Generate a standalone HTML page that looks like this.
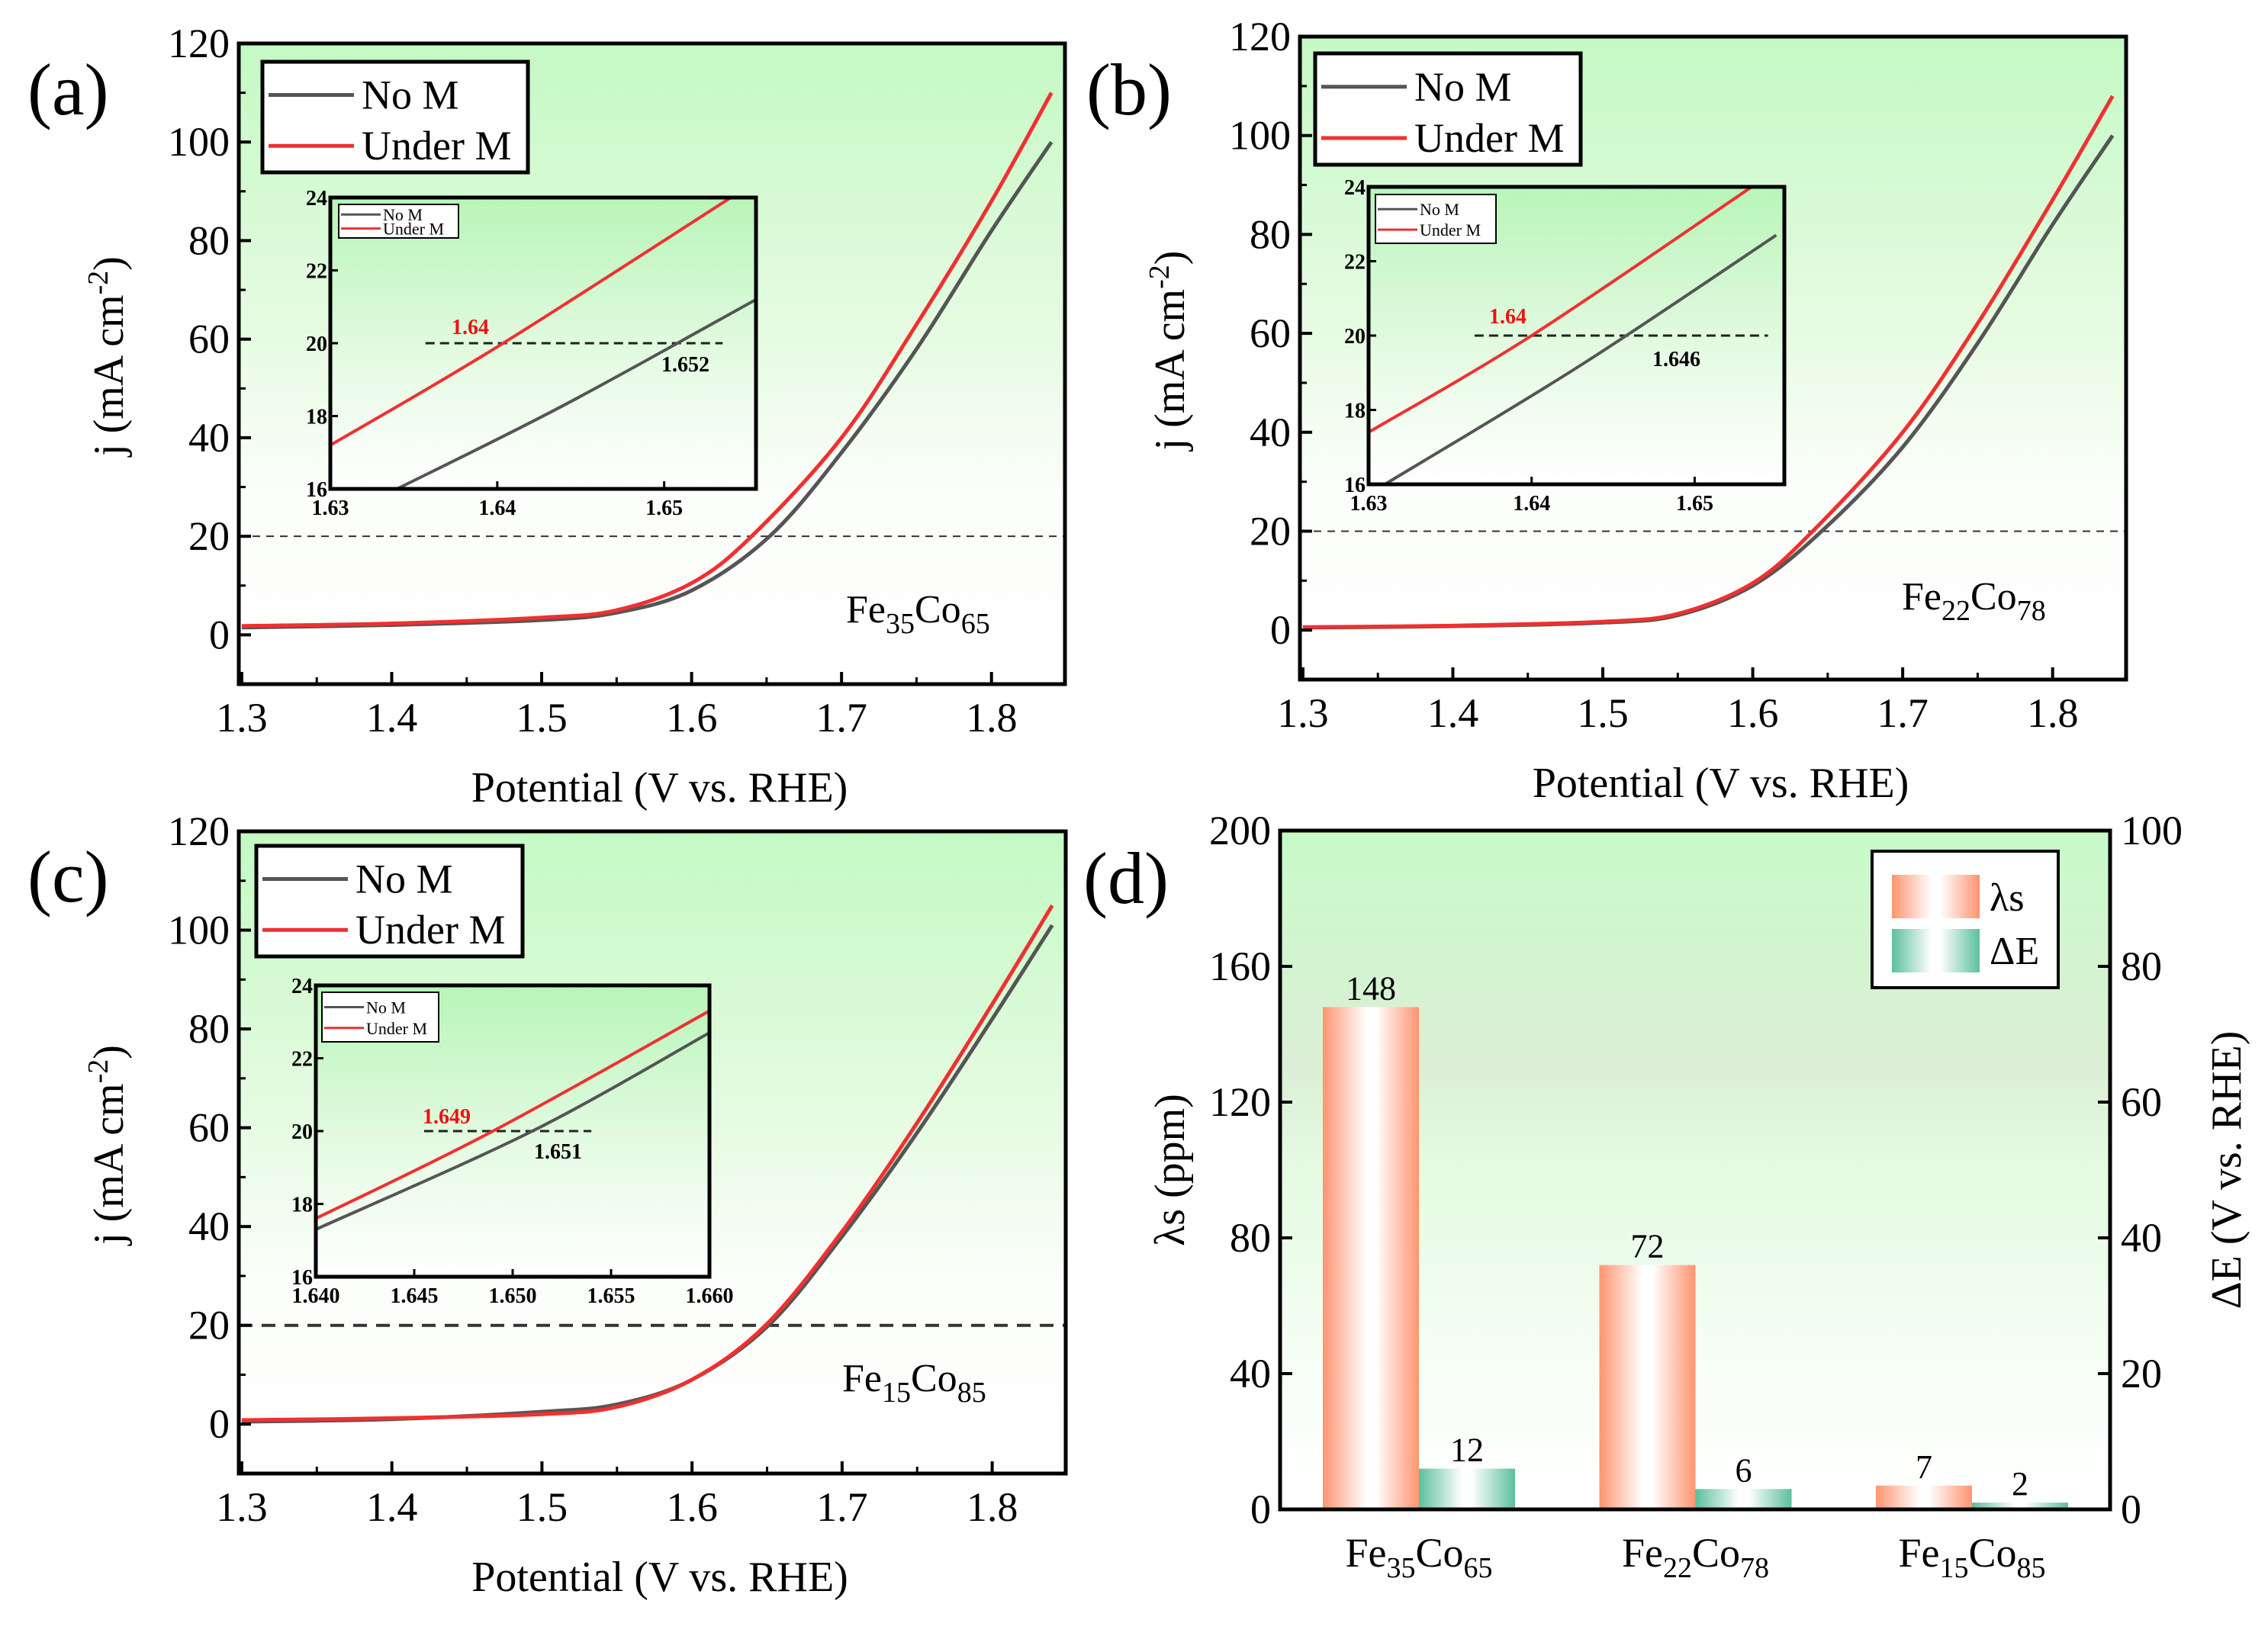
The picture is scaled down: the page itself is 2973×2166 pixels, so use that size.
<!DOCTYPE html>
<html><head><meta charset="utf-8"><style>
html,body{margin:0;padding:0;background:#fff}
svg text{font-family:"Liberation Serif",serif;fill:#000}
</style></head><body>
<svg id="fig" width="2973" height="2161" viewBox="0 0 2973 2161" xmlns="http://www.w3.org/2000/svg">
<defs>
<linearGradient id="bgLSV" x1="0" y1="0" x2="0" y2="1">
<stop offset="0" stop-color="#c4f9c4"/><stop offset="0.45" stop-color="#e6fbe2"/><stop offset="0.7" stop-color="#fbfefa"/><stop offset="1" stop-color="#ffffff"/>
</linearGradient>
<linearGradient id="bgIn" x1="0" y1="0" x2="0" y2="1">
<stop offset="0" stop-color="#b8f5b8"/><stop offset="0.6" stop-color="#e8fbe6"/><stop offset="1" stop-color="#ffffff"/>
</linearGradient>
<linearGradient id="bgD" x1="0" y1="0" x2="0" y2="1">
<stop offset="0" stop-color="#c8fac8"/><stop offset="0.35" stop-color="#dcefd6"/><stop offset="0.5" stop-color="#e4fbe2"/><stop offset="0.8" stop-color="#f7fef6"/><stop offset="1" stop-color="#ffffff"/>
</linearGradient>
<linearGradient id="gOr" x1="0" y1="0" x2="1" y2="0">
<stop offset="0" stop-color="#ff9470"/><stop offset="0.45" stop-color="#ffffff"/><stop offset="0.55" stop-color="#ffffff"/><stop offset="1" stop-color="#ff9470"/>
</linearGradient>
<linearGradient id="gGr" x1="0" y1="0" x2="1" y2="0">
<stop offset="0" stop-color="#5cbf9c"/><stop offset="0.45" stop-color="#ffffff"/><stop offset="0.55" stop-color="#ffffff"/><stop offset="1" stop-color="#5cbf9c"/>
</linearGradient>
</defs>
</svg>
<script>
// ---- data ----
const xTicks=[1.3,1.4,1.5,1.6,1.7,1.8];
const yTicks=[0,20,40,60,80,100,120];
const aNoMx=[1.3,1.4,1.5,1.55,1.6,1.652,1.7,1.75,1.8,1.84];
const aNoMy=[1.5,2,3,4.5,9,20,37,58,82,100];
const aUnMx=[1.3,1.4,1.5,1.55,1.6,1.64,1.7,1.75,1.8,1.84];
const aUnMy=[1.8,2.3,3.5,5,10.5,20,40,63,88,110];
const bNoMx=[1.3,1.4,1.5,1.55,1.6,1.646,1.7,1.75,1.8,1.84];
const bNoMy=[0.5,0.8,1.5,3,9,20,37,58,82,100];
const bUnMx=[1.3,1.4,1.5,1.55,1.6,1.64,1.7,1.75,1.8,1.84];
const bUnMy=[0.6,0.9,1.7,3.3,9.5,20,40,62,87,108];
const cNoMx=[1.3,1.4,1.5,1.55,1.6,1.651,1.7,1.75,1.8,1.84];
const cNoMy=[0.5,1,2.5,4,9,20,38,59,82,101];
const cUnMx=[1.3,1.4,1.5,1.55,1.6,1.649,1.7,1.75,1.8,1.84];
const cUnMy=[0.8,1.2,2,3.5,9,20,39,61,85,105];
// insets
const aInNoMx=[1.634,1.644,1.6555]; const aInNoMy=[16,18.3,21.2];
const aInUnMx=[1.63,1.64,1.654];    const aInUnMy=[17.2,19.9,24];
const bInNoMx=[1.631,1.643,1.655];  const bInNoMy=[16,19.2,22.7];
const bInUnMx=[1.63,1.64,1.6535];   const bInUnMy=[17.4,20,24];
const cInNoMx=[1.64,1.651,1.66];    const cInNoMy=[17.3,20,22.7];
const cInUnMx=[1.64,1.649,1.66];    const cInUnMy=[17.6,20,23.3];
// bar chart
const categories=[["Fe","35","Co","65"],["Fe","22","Co","78"],["Fe","15","Co","85"]];
const lambdaS=[148,72,7];
const deltaE=[12,6,2];
const dLeftTicks=[0,40,80,120,160,200];
const dRightTicks=[0,20,40,60,80,100];

const svg=document.getElementById('fig');
const NS='http://www.w3.org/2000/svg';
function el(tag,attrs,parent,txt){const e=document.createElementNS(NS,tag);for(const k in attrs)e.setAttribute(k,attrs[k]);if(txt!==undefined)e.textContent=txt;(parent||svg).appendChild(e);return e;}
function smooth(pts){let d='M'+pts[0][0]+','+pts[0][1];for(let i=0;i<pts.length-1;i++){const p0=pts[i-1]||pts[i],p1=pts[i],p2=pts[i+1],p3=pts[i+2]||p2;const c1=[p1[0]+(p2[0]-p0[0])/6,p1[1]+(p2[1]-p0[1])/6],c2=[p2[0]-(p3[0]-p1[0])/6,p2[1]-(p3[1]-p1[1])/6];d+=' C'+c1+' '+c2+' '+p2;}return d;}

function panel(cfg){
  const g=el('g',{});
  
  
  const L=cfg.L,T=cfg.T,R=cfg.R,B=cfg.B;
  const x0=1.298,x1=1.849,y0=-10,y1=120;
  const sx=v=>L+(v-x0)/(x1-x0)*(R-L), sy=v=>B-(v-y0)/(y1-y0)*(B-T);
  el('rect',{x:L,y:T,width:R-L,height:B-T,fill:'url(#bgLSV)'},g);
  const dl=el('line',{x1:L,x2:R,y1:sy(20),y2:sy(20),stroke:'#333','stroke-width':cfg.id==='c'?4:2,'stroke-dasharray':cfg.id==='c'?'18,12':'10,8'},g);
  
  
  const c1=el('path',{d:smooth(cfg.nx.map((v,i)=>[sx(v),sy(cfg.ny[i])])),fill:'none',stroke:'#555','stroke-width':5},g);
  
  
  const c2=el('path',{d:smooth(cfg.ux.map((v,i)=>[sx(v),sy(cfg.uy[i])])),fill:'none',stroke:'#f03030','stroke-width':5},g);
  
  
  // ticks
  xTicks.forEach(v=>{const X=sx(v);el('line',{x1:X,x2:X,y1:B,y2:B-16,stroke:'#000','stroke-width':4},g);
    const t=el('text',{x:X,y:B+62,'text-anchor':'middle','font-size':54},g,v.toFixed(1));
    
    
    const m=sx(v+0.05);if(m<R)el('line',{x1:m,x2:m,y1:B,y2:B-9,stroke:'#000','stroke-width':3},g);});
  yTicks.forEach(v=>{const Y=sy(v);el('line',{x1:L,x2:L+16,y1:Y,y2:Y,stroke:'#000','stroke-width':4},g);
    const t=el('text',{x:L-12,y:Y+18,'text-anchor':'end','font-size':54},g,String(v));
    
    
    const m=sy(v+10);if(m>T)el('line',{x1:L,x2:L+9,y1:m,y2:m,stroke:'#000','stroke-width':3},g);});
  el('rect',{x:L,y:T,width:R-L,height:B-T,fill:'none',stroke:'#000','stroke-width':5},g);
  const xt=el('text',{x:(L+R)/2+10,y:B+154,'text-anchor':'middle','font-size':56},g,'Potential (V vs. RHE)');
  
  
  const yt=el('text',{transform:`translate(${L-152},${(T+B)/2-10}) rotate(-90)`,'text-anchor':'middle','font-size':56},g);
  
  
  el('tspan',{},yt,'j (mA cm');el('tspan',{dy:-20,'font-size':38},yt,'-2');el('tspan',{dy:20},yt,')');
  const pl=el('text',{x:cfg.lx,y:cfg.ly,'font-size':96},g,'('+cfg.id+')');
  
  
  // sample label
  const sl=el('text',{x:cfg.sx,y:cfg.sy,'font-size':52},g);
  
  
  el('tspan',{},sl,'Fe');el('tspan',{dy:14,'font-size':38},sl,cfg.s1);el('tspan',{dy:-14},sl,'Co');el('tspan',{dy:14,'font-size':38},sl,cfg.s2);
  // legend
  const lg=el('g',{},g);
  
  
  const [lx,ly,lw,lh]=cfg.leg;
  el('rect',{x:lx,y:ly,width:lw,height:lh,fill:'#fff',stroke:'#000','stroke-width':5},lg);
  el('line',{x1:lx+8,x2:lx+120,y1:ly+lh*0.3,y2:ly+lh*0.3,stroke:'#555','stroke-width':5},lg);
  el('line',{x1:lx+8,x2:lx+120,y1:ly+lh*0.76,y2:ly+lh*0.76,stroke:'#f03030','stroke-width':5},lg);
  el('text',{x:lx+130,y:ly+lh*0.3+18,'font-size':54},lg,'No M');
  el('text',{x:lx+130,y:ly+lh*0.76+18,'font-size':54},lg,'Under M');
  // inset
  const I=cfg.inset;
  const ig=el('g',{},g);
  
  
  const ix=v=>I.L+(v-I.x0)/(I.x1-I.x0)*(I.R-I.L), iy=v=>I.B-(v-16)/8*(I.B-I.T);
  el('rect',{x:I.L,y:I.T,width:I.R-I.L,height:I.B-I.T,fill:'url(#bgIn)'},ig);
  el('line',{x1:ix(I.d0),x2:ix(I.d1),y1:iy(20),y2:iy(20),stroke:'#222','stroke-width':3,'stroke-dasharray':'12,7'},ig);
  const clip='clip'+cfg.id;
  const cp=el('clipPath',{id:clip},ig);el('rect',{x:I.L,y:I.T,width:I.R-I.L,height:I.B-I.T},cp);
  el('path',{d:smooth(cfg.inx.map((v,i)=>[ix(v),iy(cfg.iny[i])])),fill:'none',stroke:'#555','stroke-width':4,'clip-path':`url(#${clip})`},ig);
  el('path',{d:smooth(cfg.iux.map((v,i)=>[ix(v),iy(cfg.iuy[i])])),fill:'none',stroke:'#f03030','stroke-width':4,'clip-path':`url(#${clip})`},ig);
  I.xt.forEach(v=>{const X=ix(v);el('line',{x1:X,x2:X,y1:I.B,y2:I.B-10,stroke:'#000','stroke-width':3},ig);
    el('text',{x:X,y:I.B+34,'text-anchor':'middle','font-size':28,'font-weight':'bold'},ig,v.toFixed(I.dec));});
  [16,18,20,22,24].forEach(v=>{const Y=iy(v);el('line',{x1:I.L,x2:I.L+10,y1:Y,y2:Y,stroke:'#000','stroke-width':3},ig);
    el('text',{x:I.L-4,y:Y+10,'text-anchor':'end','font-size':28,'font-weight':'bold'},ig,String(v));});
  el('rect',{x:I.L,y:I.T,width:I.R-I.L,height:I.B-I.T,fill:'none',stroke:'#000','stroke-width':5},ig);
  const il=I.leg;
  el('rect',{x:il[0],y:il[1],width:il[2],height:il[3],fill:'#fff',stroke:'#000','stroke-width':2},ig);
  el('line',{x1:il[0]+3,x2:il[0]+55,y1:il[1]+il[3]*0.3,y2:il[1]+il[3]*0.3,stroke:'#555','stroke-width':3},ig);
  el('line',{x1:il[0]+3,x2:il[0]+55,y1:il[1]+il[3]*0.72,y2:il[1]+il[3]*0.72,stroke:'#f03030','stroke-width':3},ig);
  el('text',{x:il[0]+58,y:il[1]+il[3]*0.3+8,'font-size':22},ig,'No M');
  el('text',{x:il[0]+58,y:il[1]+il[3]*0.72+8,'font-size':22},ig,'Under M');
  el('text',{x:I.rl[0],y:I.rl[1],'font-size':28,'font-weight':'bold',style:'fill:#f01010'},ig,I.rv);
  el('text',{x:I.bl[0],y:I.bl[1],'font-size':28,'font-weight':'bold'},ig,I.bv);
}

panel({id:'a',L:313,T:57,R:1396,B:897,nx:aNoMx,ny:aNoMy,ux:aUnMx,uy:aUnMy,lx:36,ly:150,sx:1109,sy:816,s1:'35',s2:'65',leg:[344,81,348,145],
  inx:aInNoMx,iny:aInNoMy,iux:aInUnMx,iuy:aInUnMy,
  inset:{L:433,T:259,R:991,B:641,x0:1.63,x1:1.6555,xt:[1.63,1.64,1.65],dec:2,d0:1.6357,d1:1.6535,leg:[444,268,157,44],rl:[592,438],rv:'1.64',bl:[867,487],bv:'1.652'}});
panel({id:'b',L:1704,T:48,R:2787,B:891,nx:bNoMx,ny:bNoMy,ux:bUnMx,uy:bUnMy,lx:1424,ly:150,sx:2493,sy:799,s1:'22',s2:'78',leg:[1724,70,348,146],
  inx:bInNoMx,iny:bInNoMy,iux:bInUnMx,iuy:bInUnMy,
  inset:{L:1794,T:245,R:2339,B:635,x0:1.63,x1:1.6555,xt:[1.63,1.64,1.65],dec:2,d0:1.6365,d1:1.6545,leg:[1803,255,158,64],rl:[1952,424],rv:'1.64',bl:[2166,480],bv:'1.646'}});
panel({id:'c',L:313,T:1090,R:1397,B:1932,nx:cNoMx,ny:cNoMy,ux:cUnMx,uy:cUnMy,lx:36,ly:1182,sx:1104,sy:1824,s1:'15',s2:'85',leg:[336,1109,349,145],
  inx:cInNoMx,iny:cInNoMy,iux:cInUnMx,iuy:cInUnMy,
  inset:{L:414,T:1292,R:930,B:1674,x0:1.64,x1:1.66,xt:[1.64,1.645,1.65,1.655,1.66],dec:3,d0:1.6455,d1:1.654,leg:[422,1301,153,65],rl:[554,1473],rv:'1.649',bl:[700,1519],bv:'1.651'}});

// panel d
(function(){
  const g=el('g',{});
  
  
  const L=1678,T=1089,R=2766,B=1979;
  const sy=v=>B-v/200*(B-T), sy2=v=>B-v/100*(B-T);
  const step=362.5, c0=1860, bw=126;
  el('rect',{x:L,y:T,width:R-L,height:B-T,fill:'url(#bgD)'},g);
  categories.forEach((c,i)=>{
    const cx=c0+i*step;
    const b1=el('rect',{x:cx-bw,y:sy(lambdaS[i]),width:bw,height:B-sy(lambdaS[i]),fill:'url(#gOr)'},g);
    
    
    const b2=el('rect',{x:cx,y:sy(deltaE[i]),width:bw,height:B-sy(deltaE[i]),fill:'url(#gGr)'},g);
    
    
    el('text',{x:cx-bw/2,y:sy(lambdaS[i])-10,'text-anchor':'middle','font-size':44},g,String(lambdaS[i]));
    el('text',{x:cx+bw/2,y:sy(deltaE[i])-10,'text-anchor':'middle','font-size':44},g,String(deltaE[i]));
    const t=el('text',{x:cx,y:2054,'text-anchor':'middle','font-size':54},g);
    
    
    el('tspan',{},t,c[0]);el('tspan',{dy:14,'font-size':38},t,c[1]);el('tspan',{dy:-14},t,c[2]);el('tspan',{dy:14,'font-size':38},t,c[3]);
  });
  dLeftTicks.forEach(v=>{const Y=sy(v);el('line',{x1:L,x2:L+16,y1:Y,y2:Y,stroke:'#000','stroke-width':4},g);
    const t=el('text',{x:L-12,y:Y+18,'text-anchor':'end','font-size':54},g,String(v));
    
    });
  dRightTicks.forEach(v=>{const Y=sy2(v);el('line',{x1:R,x2:R-16,y1:Y,y2:Y,stroke:'#000','stroke-width':4},g);
    const t=el('text',{x:R+14,y:Y+18,'text-anchor':'start','font-size':54},g,String(v));
    
    });
  el('rect',{x:L,y:T,width:R-L,height:B-T,fill:'none',stroke:'#000','stroke-width':5},g);
  const yl=el('text',{transform:`translate(1552,1534) rotate(-90)`,'text-anchor':'middle','font-size':56},g,'λs (ppm)');
  
  
  const yr=el('text',{transform:`translate(2937,1534) rotate(-90)`,'text-anchor':'middle','font-size':56},g,'ΔE (V vs. RHE)');
  
  
  const pl=el('text',{x:1420,y:1184,'font-size':96},g,'(d)');
  
  
  const lg=el('g',{},g);
  
  
  el('rect',{x:2454,y:1116,width:244,height:179,fill:'#fff',stroke:'#000','stroke-width':4},lg);
  el('rect',{x:2480,y:1147,width:115,height:57,fill:'url(#gOr)'},lg);
  el('rect',{x:2480,y:1218,width:115,height:57,fill:'url(#gGr)'},lg);
  el('text',{x:2608,y:1194,'font-size':52},lg,'λs');
  el('text',{x:2608,y:1264,'font-size':52},lg,'ΔE');
})();
</script>
</body></html>
